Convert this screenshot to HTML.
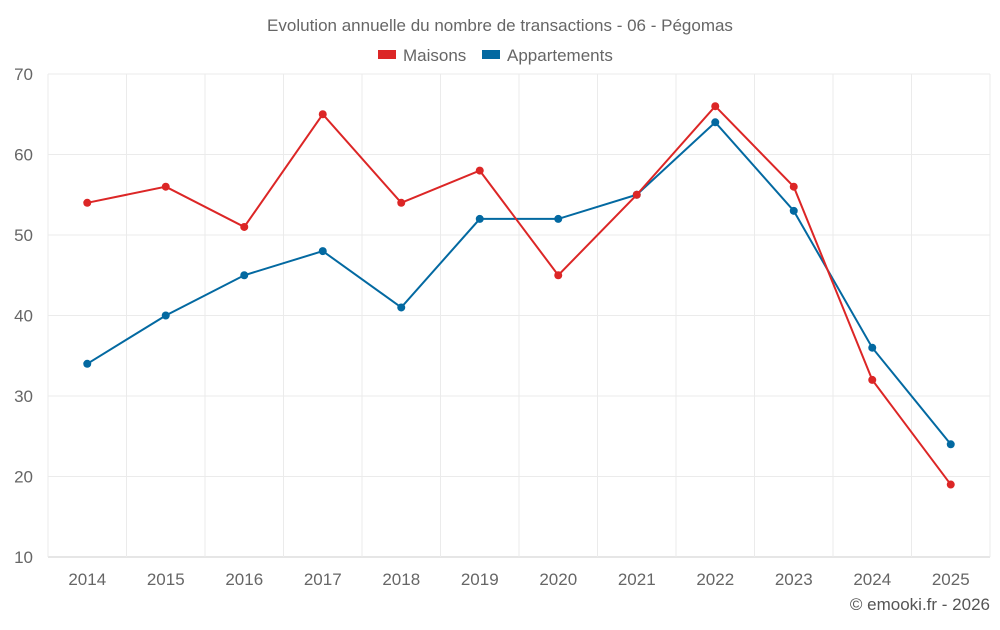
<!DOCTYPE html>
<html><head><meta charset="utf-8">
<style>
html,body{margin:0;padding:0;background:#fff;}
body{width:1000px;height:625px;overflow:hidden;font-family:"Liberation Sans",sans-serif;}
</style></head>
<body>
<svg id="chart" width="1000" height="625" xmlns="http://www.w3.org/2000/svg" font-family="Liberation Sans, sans-serif">
<text x="500" y="31" text-anchor="middle" font-size="17" fill="#666">Evolution annuelle du nombre de transactions - 06 - Pégomas</text>
<g>
<g><rect x="378" y="50" width="18" height="9" fill="#dc2626"/><text x="403" y="61" font-size="17" fill="#666">Maisons</text></g>
<g><rect x="482" y="50" width="18" height="9" fill="#0369a1"/><text x="507" y="61" font-size="17" fill="#666">Appartements</text></g>
</g>
<g id="grid"></g>
<g id="axes"></g>
<g id="series"></g>
<text x="990" y="610" text-anchor="end" font-size="17" fill="#555">© emooki.fr - 2026</text>
</svg>
<script>
const categories=["2014","2015","2016","2017","2018","2019","2020","2021","2022","2023","2024","2025"];
const maisons=[54,56,51,65,54,58,45,55,66,56,32,19];
const appartements=[34,40,45,48,41,52,52,55,64,53,36,24];
const yTicks=[10,20,30,40,50,60,70];
const NS="http://www.w3.org/2000/svg";
const L=48,R=990,T=74,B=557,yMin=10,yMax=70;
const bw=(R-L)/categories.length;
const x=i=>L+bw*(i+0.5);
const y=v=>B-(v-yMin)/(yMax-yMin)*(B-T);
function mk(tag,attrs,parent){const e=document.createElementNS(NS,tag);for(const k in attrs)e.setAttribute(k,attrs[k]);parent.appendChild(e);return e;}
const grid=document.getElementById('grid'),axes=document.getElementById('axes'),series=document.getElementById('series');
yTicks.forEach(t=>{
 const ln=mk('line',{x1:L,x2:R,y1:y(t),y2:y(t),stroke:t===yMin?'#ccc':'#ebebeb','stroke-width':1},grid);
 
 
 const tx=mk('text',{x:33,y:y(t)+6,'text-anchor':'end','font-size':17,fill:'#666'},axes);
 tx.textContent=t;
 
 
});
for(let i=0;i<=categories.length;i++){
 const ln=mk('line',{x1:L+bw*i,x2:L+bw*i,y1:T,y2:B,stroke:'#ebebeb','stroke-width':1},grid);
 
 
}
categories.forEach((c,i)=>{
 const tx=mk('text',{x:x(i),y:585,'text-anchor':'middle','font-size':17,fill:'#666'},axes);
 tx.textContent=c;
 
 
});
function draw(vals,color,name){
 const p=mk('polyline',{points:vals.map((v,i)=>x(i)+','+y(v)).join(' '),fill:'none',stroke:color,'stroke-width':2},series);
 
 
 vals.forEach((v,i)=>{
  const c=mk('circle',{cx:x(i),cy:y(v),r:4,fill:color},series);
  
  
 });
}
draw(appartements,'#0369a1','appartements');
draw(maisons,'#dc2626','maisons');
</script>
</body></html>
